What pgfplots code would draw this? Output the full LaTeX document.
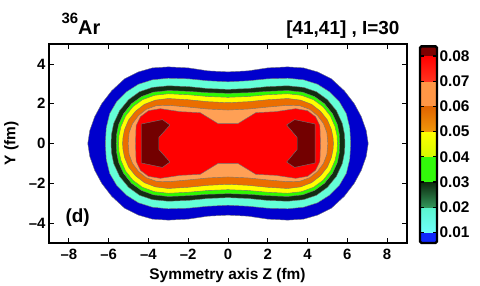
\documentclass[border=0pt]{standalone}
\usepackage{fontspec}
\setmainfont{Liberation Sans}
\usepackage{pgfplots}
\pgfplotsset{compat=1.18}
\definecolor{cBlue}{RGB}{0,0,205}
\definecolor{cCyan}{RGB}{100,255,215}
\definecolor{cDkGreen}{RGB}{18,45,18}
\definecolor{cGreen}{RGB}{45,250,0}
\definecolor{cYellow}{RGB}{255,255,0}
\definecolor{cOrange}{RGB}{235,110,0}
\definecolor{cLtOrange}{RGB}{255,160,85}
\definecolor{cRed}{RGB}{255,0,0}
\definecolor{cDkRed}{RGB}{115,0,0}
\definecolor{bBlue}{RGB}{15,40,250}
\definecolor{bCyanT}{RGB}{90,245,205}
\definecolor{bCyanB}{RGB}{110,255,250}
\definecolor{bDkGreenT}{RGB}{12,40,12}
\definecolor{bDkGreenB}{RGB}{50,150,90}
\definecolor{bGreen}{RGB}{50,250,10}
\definecolor{bYellowT}{RGB}{255,255,0}
\definecolor{bYellowB}{RGB}{215,250,0}
\definecolor{bOrangeT}{RGB}{225,100,0}
\definecolor{bOrangeB}{RGB}{240,150,10}
\definecolor{bLtOrange}{RGB}{255,150,70}
\definecolor{bRedT}{RGB}{255,0,0}
\definecolor{bRedB}{RGB}{255,50,30}
\definecolor{bDkRed}{RGB}{125,0,0}
\begin{document}
\begin{tikzpicture}
\useasboundingbox (-49bp,-43bp) rectangle (431bp,243bp);
\begin{axis}[scale only axis, width=358bp, height=199bp,
  xmin=-9, xmax=9, ymin=-5, ymax=5,
  xtick={-8,-6,-4,-2,0,2,4,6,8}, xticklabels={–8,–6,–4,–2,0,2,4,6,8},
  ytick={-4,-2,0,2,4}, yticklabels={–4,–2,0,2,4},
  tick label style={font=\fontsize{15}{17}\selectfont\bfseries},
  xticklabel style={yshift=-3bp},
  major tick length=5bp, tick style={black, line width=0.8bp},
  axis line style={line width=1.5bp}, axis on top,
  cline/.style={draw=black!55, line width=0.4bp}]
% level ~0.005 (blue)
\addplot[cline, fill=cBlue] coordinates {(7.05,0) (6.95,0.65) (6.7,1.35) (6.35,2.0) (5.85,2.65) (5.2,3.25) (4.5,3.6) (3.8,3.8) (3,3.85) (2,3.8) (1,3.65) (0,3.6) (-1,3.65) (-2,3.8) (-3,3.85) (-3.8,3.8) (-4.5,3.6) (-5.2,3.25) (-5.85,2.65) (-6.35,2.0) (-6.7,1.35) (-6.95,0.65) (-7.05,0) (-6.95,-0.65) (-6.7,-1.35) (-6.35,-2.0) (-5.85,-2.65) (-5.2,-3.25) (-4.5,-3.6) (-3.8,-3.8) (-3,-3.85) (-2,-3.8) (-1,-3.65) (0,-3.6) (1,-3.65) (2,-3.8) (3,-3.85) (3.8,-3.8) (4.5,-3.6) (5.2,-3.25) (5.85,-2.65) (6.35,-2.0) (6.7,-1.35) (6.95,-0.65)} -- cycle;
% 0.01 (cyan)
\addplot[cline, fill=cCyan] coordinates {(6.17,0) (6.12,0.8) (5.95,1.5) (5.6,2.1) (5.1,2.6) (4.5,2.98) (3.8,3.2) (3,3.28) (2,3.25) (1,3.15) (0,3.1) (-1,3.15) (-2,3.25) (-3,3.28) (-3.8,3.2) (-4.5,2.98) (-5.1,2.6) (-5.6,2.1) (-5.95,1.5) (-6.12,0.8) (-6.17,0) (-6.12,-0.8) (-5.95,-1.5) (-5.6,-2.1) (-5.1,-2.6) (-4.5,-2.98) (-3.8,-3.2) (-3,-3.28) (-2,-3.25) (-1,-3.15) (0,-3.1) (1,-3.15) (2,-3.25) (3,-3.28) (3.8,-3.2) (4.5,-2.98) (5.1,-2.6) (5.6,-2.1) (5.95,-1.5) (6.12,-0.8)} -- cycle;
% 0.02 (dark green)
\addplot[cline, fill=cDkGreen] coordinates {(5.88,0) (5.86,0.45) (5.75,1.0) (5.45,1.65) (5.0,2.2) (4.45,2.6) (3.8,2.82) (3,2.9) (2,2.86) (1,2.76) (0,2.72) (-1,2.76) (-2,2.86) (-3,2.9) (-3.8,2.82) (-4.45,2.6) (-5.0,2.2) (-5.45,1.65) (-5.75,1.0) (-5.86,0.45) (-5.88,0) (-5.86,-0.45) (-5.75,-1.0) (-5.45,-1.65) (-5.0,-2.2) (-4.45,-2.6) (-3.8,-2.82) (-3,-2.9) (-2,-2.86) (-1,-2.76) (0,-2.72) (1,-2.76) (2,-2.86) (3,-2.9) (3.8,-2.82) (4.45,-2.6) (5.0,-2.2) (5.45,-1.65) (5.75,-1.0) (5.86,-0.45)} -- cycle;
% 0.03 (green)
\addplot[cline, fill=cGreen] coordinates {(5.62,0) (5.6,0.45) (5.5,0.95) (5.25,1.5) (4.85,2.0) (4.35,2.36) (3.75,2.58) (3,2.66) (2,2.62) (1,2.55) (0,2.52) (-1,2.55) (-2,2.62) (-3,2.66) (-3.75,2.58) (-4.35,2.36) (-4.85,2.0) (-5.25,1.5) (-5.5,0.95) (-5.6,0.45) (-5.62,0) (-5.6,-0.45) (-5.5,-0.95) (-5.25,-1.5) (-4.85,-2.0) (-4.35,-2.36) (-3.75,-2.58) (-3,-2.66) (-2,-2.62) (-1,-2.55) (0,-2.52) (1,-2.55) (2,-2.62) (3,-2.66) (3.75,-2.58) (4.35,-2.36) (4.85,-2.0) (5.25,-1.5) (5.5,-0.95) (5.6,-0.45)} -- cycle;
% 0.04 (yellow)
\addplot[cline, fill=cYellow] coordinates {(5.5,0) (5.48,0.4) (5.38,0.85) (5.15,1.38) (4.78,1.85) (4.3,2.2) (3.7,2.42) (3,2.5) (2,2.45) (1,2.36) (0,2.32) (-1,2.36) (-2,2.45) (-3,2.5) (-3.7,2.42) (-4.3,2.2) (-4.78,1.85) (-5.15,1.38) (-5.38,0.85) (-5.48,0.4) (-5.5,0) (-5.48,-0.4) (-5.38,-0.85) (-5.15,-1.38) (-4.78,-1.85) (-4.3,-2.2) (-3.7,-2.42) (-3,-2.5) (-2,-2.45) (-1,-2.36) (0,-2.32) (1,-2.36) (2,-2.45) (3,-2.5) (3.7,-2.42) (4.3,-2.2) (4.78,-1.85) (5.15,-1.38) (5.38,-0.85) (5.48,-0.4)} -- cycle;
% 0.05 (orange)
\addplot[cline, fill=cOrange] coordinates {(5.3,0) (5.28,0.3) (5.2,0.7) (5.0,1.18) (4.65,1.62) (4.2,1.97) (3.65,2.18) (3,2.26) (2,2.2) (1,2.1) (0,2.05) (-1,2.1) (-2,2.2) (-3,2.26) (-3.65,2.18) (-4.2,1.97) (-4.65,1.62) (-5.0,1.18) (-5.2,0.7) (-5.28,0.3) (-5.3,0) (-5.28,-0.3) (-5.2,-0.7) (-5.0,-1.18) (-4.65,-1.62) (-4.2,-1.97) (-3.65,-2.18) (-3,-2.26) (-2,-2.2) (-1,-2.1) (0,-2.05) (1,-2.1) (2,-2.2) (3,-2.26) (3.65,-2.18) (4.2,-1.97) (4.65,-1.62) (5.0,-1.18) (5.2,-0.7) (5.28,-0.3)} -- cycle;
% 0.06 (light orange)
\addplot[cline, fill=cLtOrange] coordinates {(5.02,0) (4.97,0.55) (4.8,1.0) (4.5,1.4) (4.1,1.72) (3.6,1.9) (3,1.92) (2,1.83) (1,1.73) (0,1.68) (-1,1.73) (-2,1.83) (-3,1.92) (-3.6,1.9) (-4.1,1.72) (-4.5,1.4) (-4.8,1.0) (-4.97,0.55) (-5.02,0) (-4.97,-0.55) (-4.8,-1.0) (-4.5,-1.4) (-4.1,-1.72) (-3.6,-1.9) (-3,-1.92) (-2,-1.83) (-1,-1.73) (0,-1.68) (1,-1.73) (2,-1.83) (3,-1.92) (3.6,-1.9) (4.1,-1.72) (4.5,-1.4) (4.8,-1.0) (4.97,-0.55)} -- cycle;
% 0.07 (red)
\addplot[cline, fill=cRed] coordinates {(4.65,0) (4.62,0.9) (4.4,1.35) (4.0,1.65) (3.4,1.75) (2.4,1.6) (1.4,1.55) (0.5,1.0) (-0.5,1.0) (-1.4,1.55) (-2.4,1.6) (-3.4,1.75) (-4.0,1.65) (-4.4,1.35) (-4.62,0.9) (-4.65,0) (-4.62,-0.9) (-4.4,-1.35) (-4.0,-1.65) (-3.4,-1.75) (-2.4,-1.6) (-1.4,-1.55) (-0.5,-1.0) (0.5,-1.0) (1.4,-1.55) (2.4,-1.6) (3.4,-1.75) (4.0,-1.65) (4.4,-1.35) (4.62,-0.9)} -- cycle;
% 0.08 (dark red)
\addplot[cline, fill=cDkRed] coordinates {(-4.35,0.98) (-3.3,1.2) (-2.92,0.93) (-3.48,0.3) (-3.48,-0.3) (-2.92,-0.93) (-3.3,-1.2) (-4.35,-0.98)} -- cycle;
\addplot[cline, fill=cDkRed] coordinates {(4.38,0.98) (3.35,1.2) (2.95,0.93) (3.48,0.3) (3.48,-0.3) (2.95,-0.93) (3.35,-1.2) (4.38,-0.98)} -- cycle;
\node[font=\fontsize{19}{21}\selectfont\bfseries] at (axis cs:-7.56,-3.7) {(d)};
\end{axis}
\begin{axis}[at={(371bp,0bp)}, anchor=south west, scale only axis,
  width=17bp, height=196.6bp, xmin=0, xmax=1, ymin=0.0058, ymax=0.0838,
  xtick=\empty, ytick={0.01,0.02,0.03,0.04,0.05,0.06,0.07,0.08},
  yticklabels={0.01,0.02,0.03,0.04,0.05,0.06,0.07,0.08},
  scaled y ticks=false,
  yticklabel pos=right, ytick pos=both,
  yticklabel style={font=\fontsize{15.5}{17}\selectfont\bfseries, xshift=-1bp},
  major tick length=4bp, tick style={black, line width=1.2bp},
  axis line style={line width=2.4bp, rounded corners=1.5bp}, axis on top]
\addplot[draw=none, fill=bBlue] coordinates {(0,0.0058) (1,0.0058) (1,0.01) (0,0.01)} -- cycle;
\addplot[draw=none, bottom color=bCyanB, top color=bCyanT] coordinates {(0,0.01) (1,0.01) (1,0.02) (0,0.02)} -- cycle;
\addplot[draw=none, bottom color=bDkGreenB, top color=bDkGreenT] coordinates {(0,0.02) (1,0.02) (1,0.03) (0,0.03)} -- cycle;
\addplot[draw=none, fill=bGreen] coordinates {(0,0.03) (1,0.03) (1,0.04) (0,0.04)} -- cycle;
\addplot[draw=none, bottom color=bYellowB, top color=bYellowT] coordinates {(0,0.04) (1,0.04) (1,0.05) (0,0.05)} -- cycle;
\addplot[draw=none, bottom color=bOrangeB, top color=bOrangeT] coordinates {(0,0.05) (1,0.05) (1,0.06) (0,0.06)} -- cycle;
\addplot[draw=none, fill=bLtOrange] coordinates {(0,0.06) (1,0.06) (1,0.07) (0,0.07)} -- cycle;
\addplot[draw=none, bottom color=bRedB, top color=bRedT] coordinates {(0,0.07) (1,0.07) (1,0.08) (0,0.08)} -- cycle;
\addplot[draw=none, fill=bDkRed] coordinates {(0,0.08) (1,0.08) (1,0.0838) (0,0.0838)} -- cycle;
\end{axis}
\node[anchor=base west, font=\fontsize{20}{22}\selectfont\bfseries] at (9bp,208bp) {\raisebox{11.5bp}{\fontsize{15}{15}\selectfont 36}Ar};
\node[anchor=base east, font=\fontsize{19}{21}\selectfont\bfseries] at (354bp,208bp) {[41,41] , I=30};
\node[anchor=base, font=\fontsize{15.5}{17}\selectfont\bfseries] at (178.5bp,-36.3bp) {Symmetry axis Z (fm)};
\node[rotate=90, font=\fontsize{15.5}{17}\selectfont\bfseries] at (-37.5bp,99.5bp) {Y (fm)};
\end{tikzpicture}
\end{document}
